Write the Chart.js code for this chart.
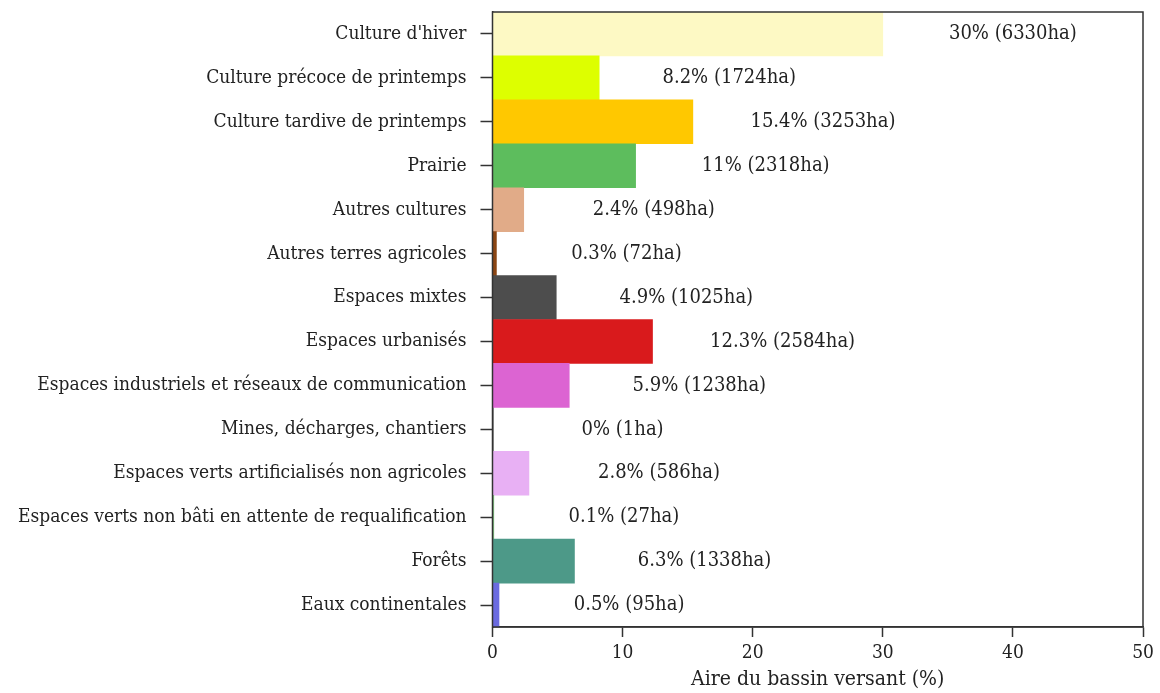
<!DOCTYPE html>
<html>
<head>
<meta charset="utf-8">
<script src="https://cdn.jsdelivr.net/npm/chart.js@4"></script>
<style>
  html, body { margin: 0; padding: 0; background: #fff; }
  #wrap { width: 1160px; height: 693px; }
</style>
</head>
<body>
<div id="wrap"><canvas id="chart-bar"></canvas></div>
<script>
const categories = [
    "Culture d'hiver",
    'Culture précoce de printemps',
    'Culture tardive de printemps',
    'Prairie',
    'Autres cultures',
    'Autres terres agricoles',
    'Espaces mixtes',
    'Espaces urbanisés',
    'Espaces industriels et réseaux de communication',
    'Mines, décharges, chantiers',
    'Espaces verts artificialisés non agricoles',
    'Espaces verts non bâti en attente de requalification',
    'Forêts',
    'Eaux continentales'
];
const percents = [30, 8.2, 15.4, 11, 2.4, 0.3, 4.9, 12.3, 5.9, 0, 2.8, 0.1, 6.3, 0.5];
const hectares = [6330, 1724, 3253, 2318, 498, 72, 1025, 2584, 1238, 1, 586, 27, 1338, 95];
const colors = [
    '#fdf9c4', '#ddff00', '#ffc800', '#5dbd5d', '#e1ab88', '#8b4513', '#4d4d4d',
    '#d91a1c', '#dc64d2', '#999999', '#e8b0f4', '#7fbf7f', '#4d9988', '#6b6be0'
];
const xTicks = [0, 10, 20, 30, 40, 50];

const font = "'DejaVu Serif Condensed', 'DejaVu Serif', serif";

// cadre + étiquettes de valeur
const extras = {
    id: 'extras',
    afterDatasetsDraw(chart) {
        const ctx = chart.ctx;
        const area = chart.chartArea;
        const x = chart.scales.x;
        const y = chart.scales.y;
        ctx.save();
        ctx.fillStyle = '#222';
        ctx.font = '20px ' + font;
        ctx.textAlign = 'center';
        ctx.textBaseline = 'middle';
        percents.forEach(function (p, i) {
            ctx.fillText(p + '% (' + hectares[i] + 'ha)', x.getPixelForValue(p + 10), y.getPixelForValue(i));
        });
        ctx.strokeStyle = '#333';
        ctx.lineWidth = 1.5;
        ctx.strokeRect(area.left, area.top, area.right - area.left, area.bottom - area.top);
        ctx.restore();
    }
};

new Chart(
    document.getElementById('chart-bar'),
    {
        type: 'bar',
        data: {
            labels: categories,
            datasets: [{
                data: percents,
                backgroundColor: colors,
                barPercentage: 1,
                categoryPercentage: 1,
                borderWidth: 0
            }]
        },
        options: {
            indexAxis: 'y',
            responsive: true,
            maintainAspectRatio: false,
            animation: false,
            layout: { padding: { top: 12, right: 17, left: 4, bottom: 0 } },
            plugins: {
                legend: { display: false },
                tooltip: { enabled: false }
            },
            scales: {
                x: {
                    min: 0,
                    max: 50,
                    afterBuildTicks: function (axis) {
                        axis.ticks = xTicks.map(function (v) { return { value: v }; });
                    },
                    grid: { drawOnChartArea: false, tickLength: 10, color: '#333', tickWidth: 1.5 },
                    border: { color: '#333', width: 1.5 },
                    ticks: { color: '#222', font: { family: font, size: 19 }, padding: 5, maxRotation: 0 },
                    title: {
                        display: true,
                        text: 'Aire du bassin versant (%)',
                        color: '#222',
                        font: { family: font, size: 21 },
                        padding: { top: -3, bottom: 1 }
                    }
                },
                y: {
                    afterFit: function (axis) {
                        axis.paddingTop = 0;
                        axis.paddingBottom = 0;
                    },
                    grid: { drawOnChartArea: false, offset: false, tickLength: 12, color: '#333', tickWidth: 1.5 },
                    border: { color: '#333', width: 1.5 },
                    ticks: { color: '#222', font: { family: font, size: 19 }, padding: 14 }
                }
            }
        },
        plugins: [extras]
    }
);
</script>
</body>
</html>
